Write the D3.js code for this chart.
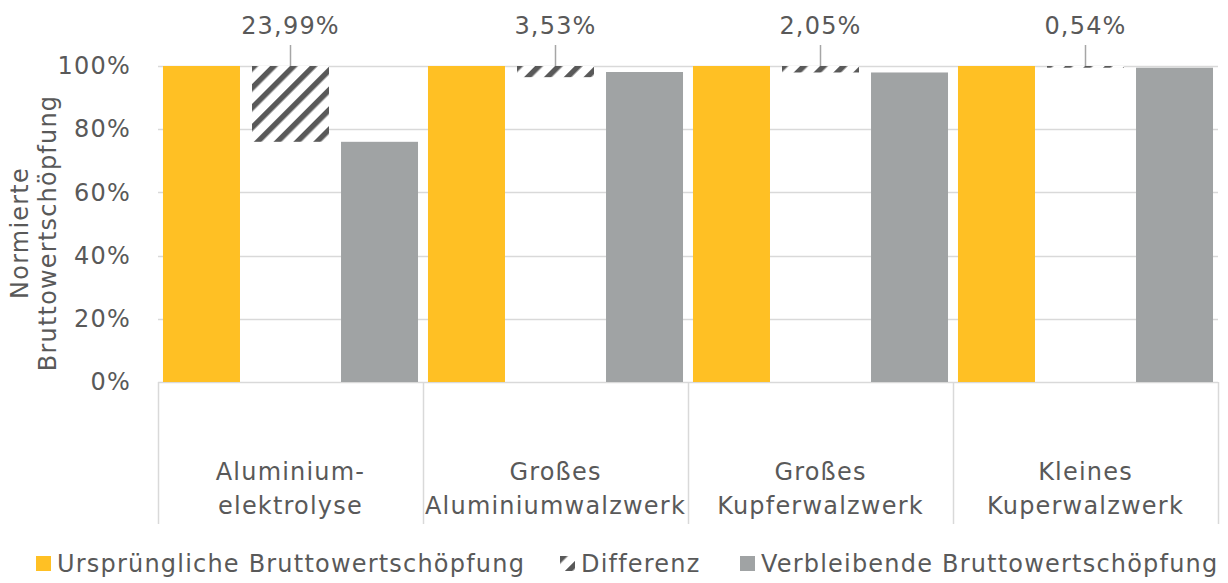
<!DOCTYPE html>
<html>
<head>
<meta charset="utf-8">
<script src="https://cdn.jsdelivr.net/npm/d3@7"></script>
<style>
  body { margin: 0; background: #fff; }
  text { font-family: "DejaVu Sans", sans-serif; fill: #595959; letter-spacing: 1.2px; }
</style>
</head>
<body>
<div id="chart"></div>
<script>
//Width and height
var w = 1228;
var h = 583;
var margin = { top: 66, right: 10, bottom: 201, left: 158 };

//Data
var categories = [["Aluminium-", "elektrolyse"], ["Großes", "Aluminiumwalzwerk"], ["Großes", "Kupferwalzwerk"], ["Kleines", "Kuperwalzwerk"]];
var seriesNames = ["Ursprüngliche Bruttowertschöpfung", "Differenz", "Verbleibende Bruttowertschöpfung"];
var original = [1, 1, 1, 1];
var difference = [0.2399, 0.0353, 0.0205, 0.0054];
var remaining = [0.7601, 0.981, 0.9795, 0.9946];
var diffLabels = ["23,99%", "3,53%", "2,05%", "0,54%"];
var yTicks = [0, 0.2, 0.4, 0.6, 0.8, 1];

var colors = ["#FFC024", "url(#hatch)", "#A0A3A4"];

var svg = d3.select("#chart")
	.append("svg")
	.attr("width", w)
	.attr("height", h);

//hatch pattern for the difference bars
var defs = svg.append("defs");
var pat = defs.append("pattern")
	.attr("id", "hatch")
	.attr("patternUnits", "userSpaceOnUse")
	.attr("width", 14)
	.attr("height", 14)
	.attr("patternTransform", "rotate(45)");
pat.append("rect").attr("width", 14).attr("height", 14).attr("fill", "#fff");
pat.append("rect").attr("x", 0).attr("width", 5.5).attr("height", 14).attr("fill", "#595959");

var x0 = d3.scaleBand()
	.domain(d3.range(categories.length))
	.range([margin.left, w - margin.right]);

var x1 = d3.scaleBand()
	.domain(d3.range(3))
	.range([0, x0.bandwidth()])
	.paddingInner(0.135)
	.paddingOuter(0.056);

var y = d3.scaleLinear()
	.domain([0, 1])
	.range([h - margin.bottom, margin.top]);

//grid lines
svg.append("g")
	.selectAll("line")
	.data(yTicks)
	.enter()
	.append("line")
	.attr("x1", margin.left)
	.attr("x2", w - margin.right)
	.attr("y1", function (d) { return Math.round(y(d)) + 0.5; })
	.attr("y2", function (d) { return Math.round(y(d)) + 0.5; })
	.attr("stroke", "#D9D9D9")
	.attr("stroke-width", 1.5);

//y axis labels
var yAxis = d3.axisLeft(y)
	.tickValues(yTicks)
	.tickFormat(d3.format(".0%"))
	.tickSize(0)
	.tickPadding(27);
var gy = svg.append("g")
	.attr("transform", "translate(" + margin.left + ",0)")
	.call(yAxis);
gy.select(".domain").remove();
gy.selectAll("text")
	.attr("font-size", 24)
	.attr("fill", "#595959")
	.style("font-family", "DejaVu Sans, sans-serif");

//category separators
var bounds = d3.range(categories.length + 1).map(function (i) {
	return i < categories.length ? x0(i) : x0(i - 1) + x0.bandwidth();
});
svg.append("g")
	.selectAll("line")
	.data(bounds)
	.enter()
	.append("line")
	.attr("x1", function (d) { return Math.round(d) + 0.5; })
	.attr("x2", function (d) { return Math.round(d) + 0.5; })
	.attr("y1", y(0))
	.attr("y2", y(0) + 142)
	.attr("stroke", "#D9D9D9")
	.attr("stroke-width", 1.5);

//bars
var groups = svg.selectAll("g.cat")
	.data(d3.range(categories.length))
	.enter()
	.append("g")
	.attr("class", "cat")
	.attr("transform", function (i) { return "translate(" + x0(i) + ",0)"; });

groups.append("rect")
	.attr("x", x1(0))
	.attr("width", x1.bandwidth())
	.attr("y", function (i) { return y(original[i]); })
	.attr("height", function (i) { return y(0) - y(original[i]); })
	.attr("fill", colors[0]);

groups.append("rect")
	.attr("x", x1(1))
	.attr("width", x1.bandwidth())
	.attr("y", function (i) { return y(original[i]); })
	.attr("height", function (i) { return y(original[i] - difference[i]) - y(original[i]); })
	.attr("fill", colors[1]);

groups.append("rect")
	.attr("x", x1(2))
	.attr("width", x1.bandwidth())
	.attr("y", function (i) { return y(remaining[i]); })
	.attr("height", function (i) { return y(0) - y(remaining[i]); })
	.attr("fill", colors[2]);

//data labels with leader lines
groups.append("line")
	.attr("x1", x1(1) + x1.bandwidth() / 2)
	.attr("x2", x1(1) + x1.bandwidth() / 2)
	.attr("y1", 45)
	.attr("y2", function (i) { return y(original[i]); })
	.attr("stroke", "#A6A6A6")
	.attr("stroke-width", 1.5);

groups.append("text")
	.attr("x", x1(1) + x1.bandwidth() / 2)
	.attr("y", 34)
	.attr("text-anchor", "middle")
	.attr("font-size", 24)
	.text(function (i) { return diffLabels[i]; });

//category labels
var cl = groups.append("text")
	.attr("text-anchor", "middle")
	.attr("font-size", 24);
cl.append("tspan")
	.attr("x", x0.bandwidth() / 2)
	.attr("y", 480)
	.text(function (i) { return categories[i][0]; });
cl.append("tspan")
	.attr("x", x0.bandwidth() / 2)
	.attr("y", 514)
	.text(function (i) { return categories[i][1]; });

//y axis title
var title = svg.append("text")
	.attr("transform", "translate(0," + (margin.top + 167) + ") rotate(-90)")
	.attr("text-anchor", "middle")
	.attr("font-size", 24);
title.append("tspan").attr("x", 0).attr("y", 28).text("Normierte");
title.append("tspan").attr("x", 0).attr("y", 56).text("Bruttowertschöpfung");

//legend
var legendX = [36, 560, 740];
var legend = svg.selectAll("g.legend")
	.data(seriesNames)
	.enter()
	.append("g")
	.attr("class", "legend")
	.attr("transform", function (d, i) { return "translate(" + legendX[i] + ",556)"; });
legend.append("rect")
	.attr("width", 15)
	.attr("height", 15)
	.attr("fill", function (d, i) { return colors[i]; });
legend.append("text")
	.attr("x", 21)
	.attr("y", 16)
	.attr("font-size", 24)
	.text(function (d) { return d; });
</script>
</body>
</html>
